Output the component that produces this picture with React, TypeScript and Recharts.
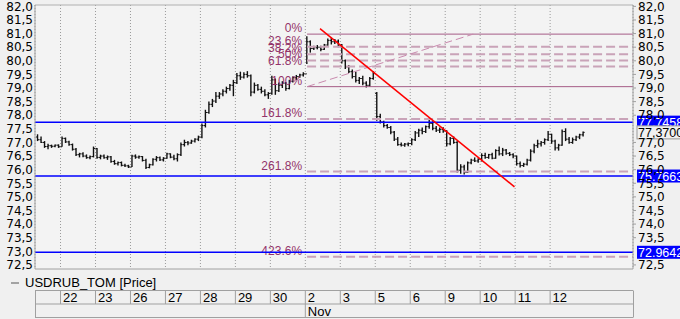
import React from "react";
import {
  ComposedChart,
  Bar,
  XAxis,
  YAxis,
  CartesianGrid,
  ReferenceLine,
} from "recharts";

// open, high, low, close per hourly bar
type Ohlc = [number, number, number, number];

const OCT_21: Ohlc[] = [
  [77.2, 77.3, 77.05, 77.1], [77.1, 77.22, 76.98, 77.0], [77.0, 77.05, 76.8, 76.85],
  [76.85, 76.95, 76.75, 76.88], [76.88, 76.92, 76.8, 76.86], [76.86, 76.92, 76.82, 76.9],
  [76.9, 76.93, 76.8, 76.84],
];
const OCT_22: Ohlc[] = [
  [76.84, 77.22, 76.84, 77.15], [77.15, 77.18, 76.98, 77.02], [77.02, 77.06, 76.88, 76.92],
  [76.92, 76.96, 76.7, 76.75], [76.75, 76.8, 76.5, 76.55], [76.55, 76.62, 76.45, 76.58],
  [76.58, 76.64, 76.46, 76.5], [76.5, 76.56, 76.4, 76.44], [76.44, 76.52, 76.38, 76.48],
  [76.48, 76.85, 76.45, 76.78],
];
const OCT_23: Ohlc[] = [
  [76.78, 76.8, 76.4, 76.45], [76.45, 76.55, 76.38, 76.5], [76.5, 76.56, 76.4, 76.44],
  [76.44, 76.52, 76.36, 76.47], [76.47, 76.5, 76.25, 76.3], [76.3, 76.36, 76.18, 76.22],
  [76.22, 76.3, 76.15, 76.26], [76.26, 76.3, 76.12, 76.16], [76.16, 76.22, 76.1, 76.14],
  [76.14, 76.18, 76.06, 76.1],
];
const OCT_26: Ohlc[] = [
  [76.1, 76.55, 76.1, 76.5], [76.5, 76.56, 76.4, 76.46], [76.46, 76.52, 76.4, 76.48],
  [76.48, 76.5, 76.3, 76.34], [76.34, 76.4, 76.02, 76.08], [76.08, 76.22, 76.05, 76.18],
  [76.18, 76.42, 76.15, 76.38], [76.38, 76.5, 76.3, 76.44], [76.44, 76.48, 76.32, 76.36],
  [76.36, 76.46, 76.3, 76.42],
];
const OCT_27: Ohlc[] = [
  [76.42, 76.62, 76.4, 76.58], [76.58, 76.6, 76.42, 76.46], [76.46, 76.55, 76.35, 76.4],
  [76.4, 76.6, 76.3, 76.55], [76.55, 77.0, 76.5, 76.92], [76.92, 77.1, 76.85, 77.0],
  [77.0, 77.05, 76.9, 76.98], [76.98, 77.1, 76.95, 77.05], [77.05, 77.15, 77.0, 77.12],
  [77.12, 77.25, 77.05, 77.2],
];
const OCT_28: Ohlc[] = [
  [77.2, 77.7, 77.15, 77.62], [77.62, 78.2, 77.55, 78.1], [78.1, 78.5, 78.05, 78.4],
  [78.4, 78.6, 78.3, 78.52], [78.52, 78.85, 78.45, 78.7], [78.7, 78.85, 78.6, 78.78],
  [78.78, 78.95, 78.7, 78.88], [78.88, 79.05, 78.8, 78.98], [78.98, 79.15, 78.9, 79.1],
  [79.1, 79.3, 78.7, 79.2],
];
const OCT_29: Ohlc[] = [
  [79.2, 79.55, 79.15, 79.45], [79.45, 79.6, 79.3, 79.4], [79.4, 79.58, 79.35, 79.5],
  [79.5, 79.62, 79.38, 79.45], [79.45, 79.5, 78.7, 78.85], [78.85, 79.2, 78.8, 79.1],
  [79.1, 79.15, 78.9, 78.95], [78.95, 79.05, 78.8, 78.88], [78.88, 78.95, 78.7, 78.75],
  [78.75, 78.85, 78.6, 78.8],
];
const OCT_30: Ohlc[] = [
  [78.8, 79.45, 78.75, 79.3], [79.3, 79.35, 78.75, 78.9], [78.9, 79.2, 78.85, 79.1],
  [79.1, 79.25, 79.0, 79.18], [79.18, 79.22, 78.9, 78.98], [78.98, 79.3, 78.95, 79.25],
  [79.25, 79.42, 79.2, 79.38], [79.38, 79.48, 79.3, 79.42], [79.42, 79.52, 79.38, 79.48],
  [79.48, 79.58, 79.42, 79.52],
];
const NOV_2: Ohlc[] = [
  [79.52, 80.9, 79.88, 80.7], [80.7, 80.75, 80.3, 80.45], [80.45, 80.55, 80.4, 80.48],
  [80.48, 80.58, 80.42, 80.5], [80.5, 80.55, 80.35, 80.42], [80.42, 80.62, 80.4, 80.58],
  [80.58, 80.82, 80.55, 80.75], [80.75, 80.85, 80.6, 80.7], [80.7, 80.8, 80.62, 80.72],
  [80.72, 80.78, 80.5, 80.58],
];
const NOV_3: Ohlc[] = [
  [80.58, 80.62, 79.9, 80.0], [80.0, 80.05, 79.7, 79.78], [79.78, 79.85, 79.55, 79.6],
  [79.6, 79.68, 79.35, 79.42], [79.42, 79.6, 79.2, 79.28], [79.28, 79.4, 79.15, 79.35],
  [79.35, 79.45, 79.1, 79.18], [79.18, 79.25, 79.02, 79.1], [79.1, 79.4, 79.05, 79.35],
  [79.35, 79.62, 79.3, 79.55],
];
const NOV_5: Ohlc[] = [
  [78.8, 78.85, 77.8, 77.95], [77.95, 78.05, 77.7, 77.75], [77.75, 77.8, 77.55, 77.62],
  [77.62, 77.68, 77.5, 77.55], [77.55, 77.6, 77.3, 77.38], [77.38, 77.42, 77.05, 77.12],
  [77.12, 77.2, 76.88, 76.92], [76.92, 77.0, 76.85, 76.9], [76.9, 76.98, 76.84, 76.94],
  [76.94, 77.0, 76.86, 76.96],
];
const NOV_6: Ohlc[] = [
  [76.96, 77.15, 76.9, 77.1], [77.1, 77.42, 77.05, 77.35], [77.35, 77.5, 77.2, 77.45],
  [77.45, 77.55, 77.3, 77.4], [77.4, 77.62, 77.35, 77.58], [77.58, 77.85, 77.5, 77.7],
  [77.7, 77.78, 77.45, 77.52], [77.52, 77.6, 77.38, 77.45], [77.45, 77.55, 77.35, 77.48],
  [77.48, 77.56, 77.36, 77.42],
];
const NOV_9: Ohlc[] = [
  [77.42, 77.45, 76.85, 76.95], [76.95, 77.2, 76.9, 77.15], [77.15, 77.22, 76.95, 77.0],
  [77.0, 77.05, 75.9, 75.98], [75.98, 76.2, 75.85, 76.1], [76.1, 76.18, 75.82, 75.9],
  [75.9, 76.3, 75.88, 76.25], [76.25, 76.4, 76.2, 76.35], [76.35, 76.45, 76.28, 76.32],
  [76.32, 76.42, 76.25, 76.38],
];
const NOV_10: Ohlc[] = [
  [76.38, 76.6, 76.3, 76.52], [76.52, 76.62, 76.4, 76.45], [76.45, 76.58, 76.4, 76.55],
  [76.55, 76.62, 76.38, 76.42], [76.42, 76.75, 76.4, 76.7], [76.7, 76.85, 76.52, 76.58],
  [76.58, 76.8, 76.5, 76.72], [76.72, 76.76, 76.55, 76.6], [76.6, 76.65, 76.5, 76.55],
  [76.55, 76.6, 76.42, 76.5],
];
const NOV_11: Ohlc[] = [
  [76.5, 76.52, 76.15, 76.22], [76.22, 76.3, 76.08, 76.15], [76.15, 76.25, 76.1, 76.2],
  [76.2, 76.4, 76.15, 76.35], [76.35, 76.75, 76.3, 76.68], [76.68, 76.95, 76.6, 76.88],
  [76.88, 77.1, 76.8, 76.95], [76.95, 77.05, 76.85, 77.0], [77.0, 77.15, 76.92, 77.1],
  [77.1, 77.42, 77.05, 77.3],
];
const NOV_12: Ohlc[] = [
  [77.3, 77.32, 76.95, 77.05], [77.05, 77.1, 76.7, 76.8], [76.8, 76.95, 76.7, 76.9],
  [76.9, 77.48, 76.88, 77.4], [77.4, 77.52, 77.05, 77.12], [77.12, 77.2, 76.95, 77.0],
  [77.0, 77.18, 76.95, 77.1], [77.1, 77.25, 77.05, 77.2], [77.2, 77.32, 77.12, 77.28],
  [77.28, 77.4, 77.22, 77.37],
];

const SESSIONS = [
  OCT_21, OCT_22, OCT_23, OCT_26, OCT_27, OCT_28, OCT_29, OCT_30,
  NOV_2, NOV_3, NOV_5, NOV_6, NOV_9, NOV_10, NOV_11, NOV_12,
];
const DAY_LABELS = ["22", "23", "26", "27", "28", "29", "30", "2", "3", "5", "6", "9", "10", "11", "12"];
const MONTHS = [{ day: 7, label: "Nov" }];

const Y_TICKS = [72.5, 73, 73.5, 74, 74.5, 75, 75.5, 76, 76.5, 77, 77.5, 78, 78.5, 79, 79.5, 80, 80.5, 81, 81.5, 82];
const RIGHT_TICKS = [72.5, 73.5, 74, 74.5, 75, 75.5, 76, 76.5, 77, 78, 78.5, 79, 79.5, 80, 80.5, 81, 81.5, 82];
const Y_MIN = 72.35;
const Y_MAX = 82.05;
const X_MIN = -0.3;
const X_MAX = 170.7;

const FIB_LABELS = ["0%", "23.6%", "38.2%", "50%", "61.8%", "100%", "161.8%", "261.8%", "423.6%"];
const FIB_LEVELS = [80.98, 80.52, 80.24, 80.015, 79.79, 79.05, 77.86, 75.93, 72.8];
const FIB_START = 77.5;
const FIB_FAN = [{ x: 77.5, y: 79.05 }, { x: 125, y: 80.98 }];
const TREND = [{ x: 81.2, y: 81.18 }, { x: 136.8, y: 75.37 }];
const SUPPORT = [77.7458, 75.7663, 72.9642];

const ROWS: { x: number; o: number; c: number; range: [number, number] }[] = [];
SESSIONS.forEach((s) =>
  s.forEach(([o, h, l, c]) => ROWS.push({ x: ROWS.length + 0.5, o, c, range: [l, h] }))
);
const BOUNDARIES: number[] = [];
let count = 0;
SESSIONS.slice(0, -1).forEach((s) => {
  count += s.length;
  BOUNDARIES.push(count);
});
const LAST = ROWS[ROWS.length - 1].c;

const AXIS_FONT = "'DejaVu Sans', sans-serif";
const LABEL_FONT = "'Liberation Sans', Arial, sans-serif";
const FIB_COLOR = "#93336a";

function OhlcBar(props: any) {
  const { x, y, width, height, payload } = props;
  const [lo, hi] = payload.range;
  const top = Math.min(y, y + height);
  const h = Math.abs(height);
  const cx = x + width / 2;
  const k = hi === lo ? 0 : h / (hi - lo);
  const yo = top + (hi - payload.o) * k;
  const yc = top + (hi - payload.c) * k;
  return (
    <g stroke="#111" strokeWidth={1.4}>
      <line x1={cx} x2={cx} y1={top} y2={top + Math.max(h, 1)} />
      <line x1={cx - 1.6} x2={cx} y1={yo} y2={yo} strokeWidth={1} />
      <line x1={cx} x2={cx + 1.6} y1={yc} y2={yc} strokeWidth={1} />
    </g>
  );
}

function DayTick(props: any) {
  const { x, payload } = props;
  const k = BOUNDARIES.indexOf(payload.value);
  const month = MONTHS.find((m) => m.day === k);
  return (
    <g fontFamily={LABEL_FONT} fontSize={13} fill="#000">
      <line x1={x} x2={x} y1={290.5} y2={month ? 317.5 : 304} stroke="#a0a0a0" />
      <text x={x + 2.5} y={301.5}>{DAY_LABELS[k]}</text>
      {month && <text x={x + 2.5} y={315.5}>{month.label}</text>}
    </g>
  );
}

const fibLabel = (text: string) => (props: any) => {
  const { viewBox } = props;
  return (
    <text
      x={viewBox.x - 5}
      y={viewBox.y - 2}
      textAnchor="end"
      fill={FIB_COLOR}
      fontSize={12}
      fontFamily={LABEL_FONT}
    >
      {text}
    </text>
  );
};

const priceTag = (text: string, fill: string, color: string, stroke: string) => (props: any) => {
  const { viewBox } = props;
  const x = viewBox.x + viewBox.width + 4;
  const y = viewBox.y;
  return (
    <g>
      <rect x={x} y={y - 6.5} width={60} height={13} fill={fill} stroke={stroke} />
      <text x={x + 1} y={y + 4.5} fill={color} fontSize={12.5} fontFamily={LABEL_FONT}>
        {text}
      </text>
    </g>
  );
};

const comma = (v: number) => v.toFixed(1).replace(".", ",");

export default function App() {
  return (
    <div
      style={{
        position: "absolute",
        left: 0,
        top: 0,
        width: 680,
        height: 319,
        background: "#f0f0f0",
        overflow: "hidden",
      }}
    >
      <ComposedChart
        width={680}
        height={319}
        data={ROWS}
        margin={{ top: 5, right: 0, bottom: 0, left: 0 }}
      >
        <CartesianGrid
          horizontal={false}
          stroke="#9a9a9a"
          strokeDasharray="1 2"
          fill="#f3f3f3"
        />
        <XAxis
          type="number"
          dataKey="x"
          domain={[X_MIN, X_MAX]}
          ticks={BOUNDARIES}
          interval={0}
          allowDataOverflow
          height={50}
          tickLine={false}
          stroke="#a0a0a0"
          tick={<DayTick />}
        />
        <YAxis
          yAxisId="left"
          orientation="left"
          width={35}
          domain={[Y_MIN, Y_MAX]}
          ticks={Y_TICKS}
          interval={0}
          allowDataOverflow
          tickSize={0}
          tickMargin={2}
          stroke="#a0a0a0"
          tickFormatter={comma}
          tick={{ fill: "#000", fontSize: 12, fontFamily: AXIS_FONT }}
        />
        <YAxis
          yAxisId="right"
          orientation="right"
          width={47}
          domain={[Y_MIN, Y_MAX]}
          ticks={RIGHT_TICKS}
          interval={0}
          allowDataOverflow
          tickSize={3}
          tickMargin={2}
          stroke="#a0a0a0"
          tickFormatter={comma}
          tick={{ fill: "#000", fontSize: 12, fontFamily: AXIS_FONT, textAnchor: "start" }}
        />
        <ReferenceLine yAxisId="left" y={Y_MAX} stroke="#b0b0b0" />
        {FIB_LEVELS.map((v, i) => {
          const solid = i === 0 || FIB_LABELS[i] === "100%";
          return (
            <ReferenceLine
              key={FIB_LABELS[i]}
              yAxisId="left"
              segment={[{ x: FIB_START, y: v }, { x: X_MAX, y: v }]}
              stroke={solid ? "#a65c86" : "#c9a3b8"}
              strokeWidth={solid ? 1 : 2}
              strokeDasharray={solid ? undefined : "9 4"}
              label={{ content: fibLabel(FIB_LABELS[i]) }}
            />
          );
        })}
        <ReferenceLine
          yAxisId="left"
          segment={FIB_FAN}
          stroke="#c98aae"
          strokeDasharray="8 4"
        />
        {SUPPORT.map((v) => (
          <ReferenceLine
            key={v}
            yAxisId="left"
            y={v}
            stroke="#0000ff"
            strokeWidth={1.5}
            label={{ content: priceTag(v.toFixed(4), "#0000ff", "#fff", "none") }}
          />
        ))}
        <ReferenceLine
          yAxisId="left"
          y={LAST}
          stroke="none"
          label={{ content: priceTag(LAST.toFixed(4).replace(".", ","), "#f0f0f0", "#000", "#9a9a9a") }}
        />
        <Bar
          yAxisId="left"
          dataKey="range"
          barSize={3}
          shape={<OhlcBar />}
          isAnimationActive={false}
        />
        <ReferenceLine
          yAxisId="left"
          segment={TREND}
          stroke="#ff0000"
          strokeWidth={1.5}
        />
      </ComposedChart>
      <svg
        width={680}
        height={319}
        style={{ position: "absolute", left: 0, top: 0, pointerEvents: "none" }}
      >
        <g stroke="#a0a0a0" fill="none">
          <line x1={35} x2={633} y1={290.5} y2={290.5} />
          <line x1={35} x2={633} y1={304} y2={304} />
          <line x1={35} x2={633} y1={317.5} y2={317.5} />
          <line x1={35.5} x2={35.5} y1={290.5} y2={317.5} />
          <line x1={633.5} x2={633.5} y1={290.5} y2={317.5} />
        </g>
        <line x1={11} x2={19} y1={283} y2={283} stroke="#8a8a8a" strokeWidth={1.5} />
        <text x={25} y={287} fontSize={13} fontFamily={LABEL_FONT} fill="#000">
          USDRUB_TOM [Price]
        </text>
      </svg>
    </div>
  );
}
